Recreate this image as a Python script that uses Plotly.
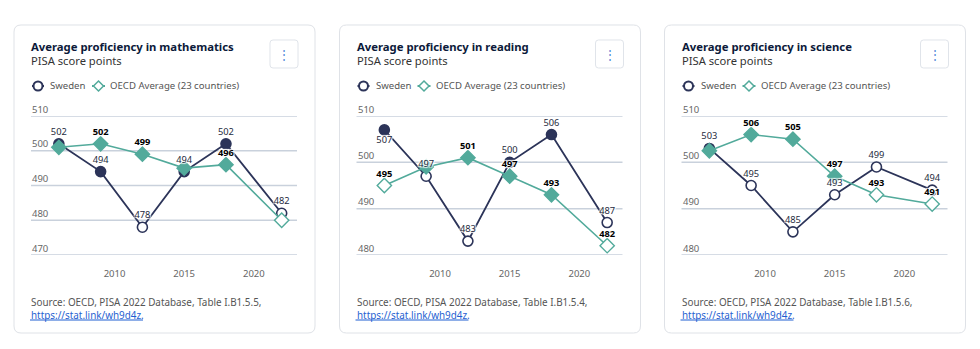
import plotly.graph_objects as go

W, H = 980, 349

years = [2006, 2009, 2012, 2015, 2018, 2022]

math_sweden = [502, 494, 478, 494, 502, 482]
math_oecd = [501, 502, 499, 495, 496, 480]
math_sweden_filled = [True, True, False, True, True, False]
math_oecd_filled = [True, True, True, True, True, False]
math_oecd_labels = [False, True, True, False, True, False]

read_sweden = [507, 497, 483, 500, 506, 487]
read_oecd = [495, 499, 501, 497, 493, 482]
read_sweden_filled = [True, False, False, True, True, False]
read_oecd_filled = [False, True, True, True, True, False]
read_oecd_labels = [True, False, True, True, True, True]

sci_sweden = [503, 495, 485, 493, 499, 494]
sci_oecd = [502.5, 506, 505, 497, 493, 491]
sci_sweden_filled = [True, False, False, False, False, False]
sci_oecd_filled = [True, True, True, True, False, False]
sci_oecd_labels = [False, True, True, True, True, True]

titles = ["Average proficiency in mathematics", "Average proficiency in reading",
          "Average proficiency in science"]
subtitle = "PISA score points"
sources = ["Source: OECD, PISA 2022 Database, Table I.B1.5.5,",
           "Source: OECD, PISA 2022 Database, Table I.B1.5.4,",
           "Source: OECD, PISA 2022 Database, Table I.B1.5.6,"]
link = "https://stat.link/wh9d4z."
y_ticks = [[470, 480, 490, 500, 510], [480, 490, 500, 510], [480, 490, 500, 510]]
x_ticks = [2010, 2015, 2020]
legend_names = ["Sweden", "OECD Average (23 countries)"]

panels = [
    (math_sweden, math_oecd, math_sweden_filled, math_oecd_filled, math_oecd_labels),
    (read_sweden, read_oecd, read_sweden_filled, read_oecd_filled, read_oecd_labels),
    (sci_sweden, sci_oecd, sci_sweden_filled, sci_oecd_filled, sci_oecd_labels),
]

NAVY = "#2c3459"
TEAL = "#52aa9b"
GRID = "#c9d1dc"
FONT = "Noto Sans"
LINK = "#1f5fd1"


def px(x):
    return x / W


def py(y):
    return 1 - y / H


def rounded_rect(x0, y0, x1, y1, r):
    """SVG path in paper coords for a rounded rectangle given pixel bounds."""
    pts = [
        ("M", px(x0 + r), py(y0)),
        ("L", px(x1 - r), py(y0)),
        ("Q", px(x1), py(y0), px(x1), py(y0 + r)),
        ("L", px(x1), py(y1 - r)),
        ("Q", px(x1), py(y1), px(x1 - r), py(y1)),
        ("L", px(x0 + r), py(y1)),
        ("Q", px(x0), py(y1), px(x0), py(y1 - r)),
        ("L", px(x0), py(y0 + r)),
        ("Q", px(x0), py(y0), px(x0 + r), py(y0)),
    ]
    s = " ".join(p[0] + " " + " ".join("{:.6f}".format(v) for v in p[1:]) for p in pts)
    return s + " Z"


card_lefts = [14, 339.5, 664.5]
card_w = 301
card_top, card_bot = 25, 333

fig = go.Figure()
shapes = []
annotations = []
shadow = "1px 1px 1px #fff, -1px -1px 1px #fff, 1px -1px 1px #fff, -1px 1px 1px #fff"


def ann(**kw):
    base = dict(xref="paper", yref="paper", showarrow=False, borderpad=0,
                xanchor="left", yanchor="middle")
    base.update(kw)
    annotations.append(base)


for i, (sw, oe, swf, oef, oel) in enumerate(panels):
    cl = card_lefts[i]
    ax = "" if i == 0 else str(i + 1)
    xa, ya = "x" + ax, "y" + ax
    ymin, ymax = y_ticks[i][0], y_ticks[i][-1]

    # card
    shapes.append(dict(type="path", xref="paper", yref="paper", layer="below",
                       path=rounded_rect(cl, card_top, cl + card_w, card_bot, 7),
                       line=dict(color="#dfe2e7", width=1), fillcolor="rgba(0,0,0,0)"))
    # menu button
    bx0, bx1 = cl + 256, cl + 284
    shapes.append(dict(type="path", xref="paper", yref="paper", layer="below",
                       path=rounded_rect(bx0, 40, bx1, 68, 3),
                       line=dict(color="#e0e4ea", width=1), fillcolor="rgba(0,0,0,0)"))
    ann(x=px((bx0 + bx1) / 2), y=py(54), text="⋮", xanchor="center",
        font=dict(family=FONT, size=12, color="#4f86d9"))
    # titles
    ann(x=px(cl + 16), y=py(47), text="<b>" + titles[i] + "</b>",
        font=dict(family=FONT, size=11.3, color="#0c1a3a"))
    ann(x=px(cl + 16), y=py(61), text=subtitle,
        font=dict(family=FONT, size=11.2, color="#333333"))
    # legend
    ly = py(86)
    lx = cl + 18
    shapes.append(dict(type="line", xref="paper", yref="paper", x0=px(lx), x1=px(lx + 12),
                       y0=ly, y1=ly, line=dict(color=NAVY, width=2)))
    shapes.append(dict(type="circle", xref="paper", yref="paper",
                       x0=px(lx + 6 - 4.5), x1=px(lx + 6 + 4.5), y0=py(86 + 4.5), y1=py(86 - 4.5),
                       line=dict(color=NAVY, width=2), fillcolor="white"))
    ann(x=px(lx + 17), y=ly, text=legend_names[0],
        font=dict(family=FONT, size=9.6, color="#555555"))
    ox = cl + 78
    shapes.append(dict(type="line", xref="paper", yref="paper", x0=px(ox), x1=px(ox + 13),
                       y0=ly, y1=ly, line=dict(color=TEAL, width=2)))
    cx, cy, d = ox + 6.5, 86, 5
    path = "M {} {} L {} {} L {} {} L {} {} Z".format(
        px(cx), py(cy - d), px(cx + d), py(cy), px(cx), py(cy + d), px(cx - d), py(cy))
    shapes.append(dict(type="path", xref="paper", yref="paper", path=path,
                       line=dict(color=TEAL, width=1.5), fillcolor="white"))
    ann(x=px(ox + 17), y=ly, text=legend_names[1],
        font=dict(family=FONT, size=9.6, color="#555555"))
    # source + link
    ann(x=px(cl + 16), y=py(308),
        text=sources[i] + "<br><span style='color:" + LINK + "'>" + link + "</span>",
        align="left", font=dict(family=FONT, size=9.9, color="#555555"))
    shapes.append(dict(type="line", xref="paper", yref="paper", x0=px(cl + 16), x1=px(cl + 129),
                       y0=py(320), y1=py(320), line=dict(color=LINK, width=1)))

    # grid lines and y tick labels above them
    for t in y_ticks[i]:
        shapes.append(dict(type="line", xref=xa + " domain", yref=ya, layer="below",
                           x0=0, x1=1, y0=t, y1=t, line=dict(color=GRID, width=1.5)))
        ann(x=px(cl + 17), y=t, yref=ya, yshift=7, text=str(t),
            font=dict(family=FONT, size=9.5, color="#666666"))

    # series
    fig.add_trace(go.Scatter(
        x=years, y=sw, mode="lines+markers", xaxis=xa, yaxis=ya, showlegend=False,
        line=dict(color=NAVY, width=1.8),
        marker=dict(symbol="circle", size=10,
                    color=[NAVY if f else "white" for f in swf],
                    line=dict(color=NAVY, width=1.6)),
        cliponaxis=False, hoverinfo="x+y"))
    fig.add_trace(go.Scatter(
        x=years, y=oe, mode="lines+markers", xaxis=xa, yaxis=ya, showlegend=False,
        line=dict(color=TEAL, width=1.6),
        marker=dict(symbol="diamond", size=11,
                    color=[TEAL if f else "white" for f in oef],
                    line=dict(color=TEAL, width=1.4)),
        cliponaxis=False, hoverinfo="x+y"))
    # labels
    sw_pos = ["bottom center" if v >= ymax - 3.5 else "top center" for v in sw]
    fig.add_trace(go.Scatter(
        x=years, y=sw, mode="markers+text", xaxis=xa, yaxis=ya, showlegend=False,
        text=[str(int(round(v))) for v in sw], textposition=sw_pos,
        marker=dict(size=9, color="rgba(0,0,0,0)"),
        textfont=dict(family=FONT, size=9.3, color="#262b40", shadow=shadow),
        cliponaxis=False, hoverinfo="skip"))
    fig.add_trace(go.Scatter(
        x=years, y=oe, mode="markers+text", xaxis=xa, yaxis=ya, showlegend=False,
        text=[str(int(round(v))) if s else "" for v, s in zip(oe, oel)],
        textposition="top center",
        marker=dict(size=9, color="rgba(0,0,0,0)"),
        textfont=dict(family=FONT, size=9.3, color="#000000", weight="bold", shadow=shadow),
        cliponaxis=False, hoverinfo="skip"))

    xd = [px(cl + 17), px(cl + 283)]
    fig.update_layout(**{
        "xaxis" + ax: dict(domain=xd, range=[2004, 2023.1], tickvals=x_ticks,
                           showgrid=False, zeroline=False, showline=False,
                           ticks="outside", ticklen=10, tickcolor="rgba(0,0,0,0)",
                           tickfont=dict(family=FONT, size=9.5, color="#666666"),
                           anchor=ya, fixedrange=True),
        "yaxis" + ax: dict(domain=[py(255), py(116)], range=[ymin, ymax], tickvals=y_ticks[i],
                           showgrid=False, zeroline=False,
                           showline=False, showticklabels=False,
                           anchor=xa, fixedrange=True),
    })

fig.update_layout(
    width=W, height=H, margin=dict(l=0, r=0, t=0, b=0),
    paper_bgcolor="white", plot_bgcolor="white",
    shapes=shapes, annotations=annotations, showlegend=False,
    font=dict(family=FONT),
)

fig.write_html("out.html", config={"displayModeBar": False})
